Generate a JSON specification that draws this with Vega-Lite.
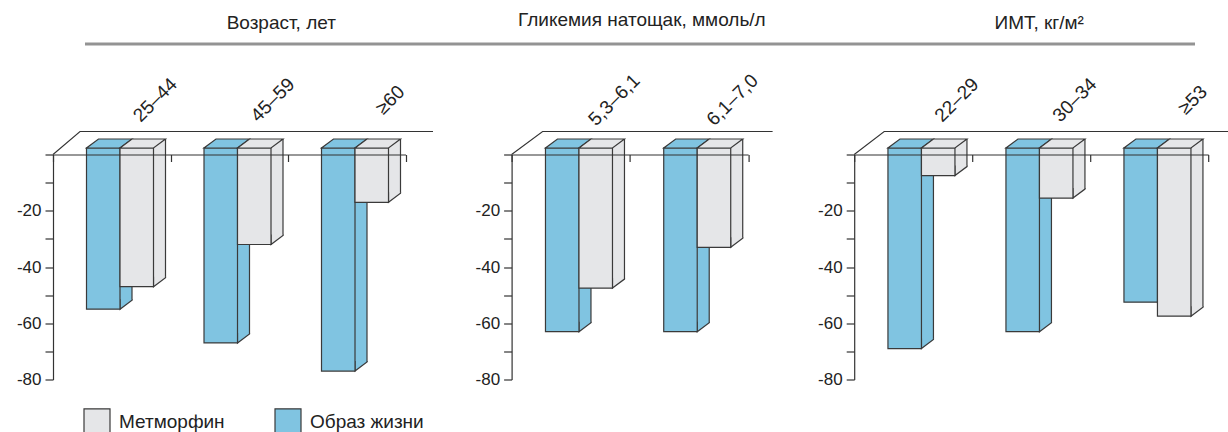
{
  "$schema": "https://vega.github.io/schema/vega-lite/v6.json",
  "background": "white",
  "padding": {"left": 16, "top": 10, "right": 0, "bottom": 0},
  "bounds": "flush",
  "spacing": 110.5,
  "datasets": {
    "bars": [
      {"group": "Возраст, лет", "category": "25–44", "series": "Метморфин", "value": -47},
      {"group": "Возраст, лет", "category": "25–44", "series": "Образ жизни", "value": -55},
      {"group": "Возраст, лет", "category": "45–59", "series": "Метморфин", "value": -32},
      {"group": "Возраст, лет", "category": "45–59", "series": "Образ жизни", "value": -67},
      {"group": "Возраст, лет", "category": "≥60", "series": "Метморфин", "value": -17},
      {"group": "Возраст, лет", "category": "≥60", "series": "Образ жизни", "value": -77},
      {"group": "Гликемия натощак, ммоль/л", "category": "5,3–6,1", "series": "Метморфин", "value": -47.5},
      {"group": "Гликемия натощак, ммоль/л", "category": "5,3–6,1", "series": "Образ жизни", "value": -63},
      {"group": "Гликемия натощак, ммоль/л", "category": "6,1–7,0", "series": "Метморфин", "value": -33},
      {"group": "Гликемия натощак, ммоль/л", "category": "6,1–7,0", "series": "Образ жизни", "value": -63},
      {"group": "ИМТ, кг/м²", "category": "22–29", "series": "Метморфин", "value": -7.5},
      {"group": "ИМТ, кг/м²", "category": "22–29", "series": "Образ жизни", "value": -69},
      {"group": "ИМТ, кг/м²", "category": "30–34", "series": "Метморфин", "value": -15.5},
      {"group": "ИМТ, кг/м²", "category": "30–34", "series": "Образ жизни", "value": -63},
      {"group": "ИМТ, кг/м²", "category": "≥53", "series": "Метморфин", "value": -57.5},
      {"group": "ИМТ, кг/м²", "category": "≥53", "series": "Образ жизни", "value": -52.5}
    ]
  },
  "data": {"name": "bars"},
  "vconcat": [
    {
      "width": 1110,
      "height": 10,
      "transform": [{"aggregate": [{"op": "count", "as": "n"}]}],
      "mark": {"type": "rule", "color": "#939393", "strokeWidth": 3, "xOffset": 32, "x2Offset": 32},
      "encoding": {
        "x": {"datum": 0, "type": "quantitative", "scale": {"domain": [0, 1]}, "axis": null},
        "x2": {"datum": 1},
        "y": {"datum": 0, "type": "quantitative", "scale": {"domain": [0, 1]}, "axis": null}
      }
    },
    {
      "bounds": "flush",
      "spacing": 105.6,
      "hconcat": [
        {
          "width": 352.5,
          "height": 225,
          "title": {"text": "Возраст, лет", "anchor": "middle", "frame": "group", "dx": 52, "offset": 41},
          "transform": [{"filter": "datum.group === 'Возраст, лет'"}],
          "encoding": {
            "x": {"field": "category", "type": "nominal", "scale": {"domain": ["25–44", "45–59", "≥60"], "paddingInner": 0, "paddingOuter": 0},
              "axis": {"orient": "top", "title": null, "zindex": 1, "tickBand": "extent", "tickSize": -7, "tickWidth": 1.2, "domainWidth": 1.2, "labelAngle": -45, "labelAlign": "center", "labelBaseline": "middle", "labelOffset": 43, "labelPadding": 62, "labelFontSize": 19, "labelOverlap": false, "labelLimit": 0}},
            "y": {"field": "value", "type": "quantitative", "stack": null, "scale": {"domain": [-80, 0], "nice": false, "zero": false},
              "axis": {"orient": "left", "title": null, "values": [-80, -70, -60, -50, -40, -30, -20, -10, 0], "labelExpr": "datum.value < 0 && datum.value % 20 === 0 ? '-' + abs(datum.value) : ''", "tickSize": 8, "tickWidth": 1.2, "domainWidth": 1.2, "labelFontSize": 17, "labelPadding": 4}}
          },
          "layer": [
            {"transform": [{"filter": "datum.category === '25–44' && datum.series === 'Образ жизни'"}],
             "mark": {"type": "point", "shape": "M0,0 L27,-23 L380,-23", "size": 4, "filled": false, "opacity": 1, "stroke": "#333333", "strokeWidth": 1.1},
             "encoding": {"x": {"field": "category", "type": "nominal", "bandPosition": 0}, "y": {"datum": 0, "type": "quantitative"}}},
            {"transform": [{"filter": "datum.series === 'Образ жизни'"}],
             "mark": {"type": "bar", "width": 12, "xOffset": 14.25, "yOffset": -9, "y2Offset": -15.5},
             "encoding": {"y2": {"datum": 0}, "color": {"field": "series", "type": "nominal"}}},
            {"transform": [{"filter": "datum.series === 'Образ жизни'"}],
             "mark": {"type": "rule", "xOffset": 20.25, "yOffset": -9, "y2Offset": -15.5, "color": "#3a3a3a", "strokeWidth": 1.2},
             "encoding": {"y2": {"datum": 0}}},
            {"transform": [{"filter": "datum.series === 'Образ жизни'"}],
             "mark": {"type": "point", "shape": "M0,-10 L0,0 L12,-9 L12,-10", "size": 4, "filled": true, "opacity": 1, "stroke": "#3a3a3a", "strokeWidth": 1.2, "xOffset": 8.25},
             "encoding": {"color": {"field": "series", "type": "nominal"}}},
            {"transform": [{"filter": "datum.series === 'Образ жизни'"}],
             "mark": {"type": "bar", "width": 33.5, "xOffset": -8.5, "y2Offset": -6.5, "stroke": "#3a3a3a", "strokeWidth": 1.2},
             "encoding": {"y2": {"datum": 0}, "color": {"field": "series", "type": "nominal", "scale": {"domain": ["Метморфин", "Образ жизни"], "range": ["#e5e6e8", "#80c4e1"]},
               "legend": {"orient": "none", "legendX": 30, "legendY": 373.5, "direction": "horizontal", "title": null, "symbolType": "square", "symbolSize": 676, "symbolStrokeColor": "#555555", "symbolStrokeWidth": 1.2, "symbolOpacity": 1, "labelFontSize": 19, "labelColor": "#222222", "labelOffset": 8, "columnPadding": 47}}}},
            {"transform": [{"filter": "datum.series === 'Образ жизни'"}],
             "mark": {"type": "point", "shape": "M0,0 L33.5,0 L45.5,-9 L12,-9 Z", "size": 4, "filled": true, "opacity": 1, "stroke": "#3a3a3a", "strokeWidth": 1.2, "xOffset": -25.25, "yOffset": -6.5},
             "encoding": {"y": {"datum": 0, "type": "quantitative"}, "color": {"field": "series", "type": "nominal"}}},
            {"transform": [{"filter": "datum.series === 'Метморфин'"}],
             "mark": {"type": "bar", "width": 12, "xOffset": 47.75, "yOffset": -9, "y2Offset": -15.5},
             "encoding": {"y2": {"datum": 0}, "color": {"field": "series", "type": "nominal"}}},
            {"transform": [{"filter": "datum.series === 'Метморфин'"}],
             "mark": {"type": "rule", "xOffset": 53.75, "yOffset": -9, "y2Offset": -15.5, "color": "#3a3a3a", "strokeWidth": 1.2},
             "encoding": {"y2": {"datum": 0}}},
            {"transform": [{"filter": "datum.series === 'Метморфин'"}],
             "mark": {"type": "point", "shape": "M0,-10 L0,0 L12,-9 L12,-10", "size": 4, "filled": true, "opacity": 1, "stroke": "#3a3a3a", "strokeWidth": 1.2, "xOffset": 41.75},
             "encoding": {"color": {"field": "series", "type": "nominal"}}},
            {"transform": [{"filter": "datum.series === 'Метморфин'"}],
             "mark": {"type": "bar", "width": 33.5, "xOffset": 25, "y2Offset": -6.5, "stroke": "#3a3a3a", "strokeWidth": 1.2},
             "encoding": {"y2": {"datum": 0}, "color": {"field": "series", "type": "nominal"}}},
            {"transform": [{"filter": "datum.series === 'Метморфин'"}],
             "mark": {"type": "point", "shape": "M0,0 L33.5,0 L45.5,-9 L12,-9 Z", "size": 4, "filled": true, "opacity": 1, "stroke": "#3a3a3a", "strokeWidth": 1.2, "xOffset": 8.25, "yOffset": -6.5},
             "encoding": {"y": {"datum": 0, "type": "quantitative"}, "color": {"field": "series", "type": "nominal"}}}
          ]
        },
        {
          "width": 236.5,
          "height": 225,
          "title": {"text": "Гликемия натощак, ммоль/л", "anchor": "middle", "frame": "group", "dx": 12, "offset": 41},
          "transform": [{"filter": "datum.group === 'Гликемия натощак, ммоль/л'"}],
          "encoding": {
            "x": {"field": "category", "type": "nominal", "scale": {"domain": ["5,3–6,1", "6,1–7,0"], "paddingInner": 0, "paddingOuter": 0},
              "axis": {"orient": "top", "title": null, "zindex": 1, "tickBand": "extent", "tickSize": -7, "tickWidth": 1.2, "domainWidth": 1.2, "labelAngle": -45, "labelAlign": "center", "labelBaseline": "middle", "labelOffset": 43, "labelPadding": 62, "labelFontSize": 19, "labelOverlap": false, "labelLimit": 0}},
            "y": {"field": "value", "type": "quantitative", "stack": null, "scale": {"domain": [-80, 0], "nice": false, "zero": false},
              "axis": {"orient": "left", "title": null, "values": [-80, -70, -60, -50, -40, -30, -20, -10, 0], "labelExpr": "datum.value < 0 && datum.value % 20 === 0 ? '-' + abs(datum.value) : ''", "tickSize": 8, "tickWidth": 1.2, "domainWidth": 1.2, "labelFontSize": 17, "labelPadding": 4}}
          },
          "layer": [
            {"transform": [{"filter": "datum.category === '5,3–6,1' && datum.series === 'Образ жизни'"}],
             "mark": {"type": "point", "shape": "M0,0 L31,-23 L261,-23", "size": 4, "filled": false, "opacity": 1, "stroke": "#333333", "strokeWidth": 1.1},
             "encoding": {"x": {"field": "category", "type": "nominal", "bandPosition": 0}, "y": {"datum": 0, "type": "quantitative"}}},
            {"transform": [{"filter": "datum.series === 'Образ жизни'"}],
             "mark": {"type": "bar", "width": 12, "xOffset": 14.25, "yOffset": -9, "y2Offset": -15.5},
             "encoding": {"y2": {"datum": 0}, "color": {"field": "series", "type": "nominal"}}},
            {"transform": [{"filter": "datum.series === 'Образ жизни'"}],
             "mark": {"type": "rule", "xOffset": 20.25, "yOffset": -9, "y2Offset": -15.5, "color": "#3a3a3a", "strokeWidth": 1.2},
             "encoding": {"y2": {"datum": 0}}},
            {"transform": [{"filter": "datum.series === 'Образ жизни'"}],
             "mark": {"type": "point", "shape": "M0,-10 L0,0 L12,-9 L12,-10", "size": 4, "filled": true, "opacity": 1, "stroke": "#3a3a3a", "strokeWidth": 1.2, "xOffset": 8.25},
             "encoding": {"color": {"field": "series", "type": "nominal"}}},
            {"transform": [{"filter": "datum.series === 'Образ жизни'"}],
             "mark": {"type": "bar", "width": 33.5, "xOffset": -8.5, "y2Offset": -6.5, "stroke": "#3a3a3a", "strokeWidth": 1.2},
             "encoding": {"y2": {"datum": 0}, "color": {"field": "series", "type": "nominal"}}},
            {"transform": [{"filter": "datum.series === 'Образ жизни'"}],
             "mark": {"type": "point", "shape": "M0,0 L33.5,0 L45.5,-9 L12,-9 Z", "size": 4, "filled": true, "opacity": 1, "stroke": "#3a3a3a", "strokeWidth": 1.2, "xOffset": -25.25, "yOffset": -6.5},
             "encoding": {"y": {"datum": 0, "type": "quantitative"}, "color": {"field": "series", "type": "nominal"}}},
            {"transform": [{"filter": "datum.series === 'Метморфин'"}],
             "mark": {"type": "bar", "width": 12, "xOffset": 47.75, "yOffset": -9, "y2Offset": -15.5},
             "encoding": {"y2": {"datum": 0}, "color": {"field": "series", "type": "nominal"}}},
            {"transform": [{"filter": "datum.series === 'Метморфин'"}],
             "mark": {"type": "rule", "xOffset": 53.75, "yOffset": -9, "y2Offset": -15.5, "color": "#3a3a3a", "strokeWidth": 1.2},
             "encoding": {"y2": {"datum": 0}}},
            {"transform": [{"filter": "datum.series === 'Метморфин'"}],
             "mark": {"type": "point", "shape": "M0,-10 L0,0 L12,-9 L12,-10", "size": 4, "filled": true, "opacity": 1, "stroke": "#3a3a3a", "strokeWidth": 1.2, "xOffset": 41.75},
             "encoding": {"color": {"field": "series", "type": "nominal"}}},
            {"transform": [{"filter": "datum.series === 'Метморфин'"}],
             "mark": {"type": "bar", "width": 33.5, "xOffset": 25, "y2Offset": -6.5, "stroke": "#3a3a3a", "strokeWidth": 1.2},
             "encoding": {"y2": {"datum": 0}, "color": {"field": "series", "type": "nominal"}}},
            {"transform": [{"filter": "datum.series === 'Метморфин'"}],
             "mark": {"type": "point", "shape": "M0,0 L33.5,0 L45.5,-9 L12,-9 Z", "size": 4, "filled": true, "opacity": 1, "stroke": "#3a3a3a", "strokeWidth": 1.2, "xOffset": 8.25, "yOffset": -6.5},
             "encoding": {"y": {"datum": 0, "type": "quantitative"}, "color": {"field": "series", "type": "nominal"}}}
          ]
        },
        {
          "width": 354,
          "height": 225,
          "title": {"text": "ИМТ, кг/м²", "anchor": "middle", "frame": "group", "dx": 8, "offset": 41},
          "transform": [{"filter": "datum.group === 'ИМТ, кг/м²'"}],
          "encoding": {
            "x": {"field": "category", "type": "nominal", "scale": {"domain": ["22–29", "30–34", "≥53"], "paddingInner": 0, "paddingOuter": 0},
              "axis": {"orient": "top", "title": null, "zindex": 1, "tickBand": "extent", "tickSize": -7, "tickWidth": 1.2, "domainWidth": 1.2, "labelAngle": -45, "labelAlign": "center", "labelBaseline": "middle", "labelOffset": 43, "labelPadding": 62, "labelFontSize": 19, "labelOverlap": false, "labelLimit": 0}},
            "y": {"field": "value", "type": "quantitative", "stack": null, "scale": {"domain": [-80, 0], "nice": false, "zero": false},
              "axis": {"orient": "left", "title": null, "values": [-80, -70, -60, -50, -40, -30, -20, -10, 0], "labelExpr": "datum.value < 0 && datum.value % 20 === 0 ? '-' + abs(datum.value) : ''", "tickSize": 8, "tickWidth": 1.2, "domainWidth": 1.2, "labelFontSize": 17, "labelPadding": 4}}
          },
          "layer": [
            {"transform": [{"filter": "datum.category === '22–29' && datum.series === 'Образ жизни'"}],
             "mark": {"type": "point", "shape": "M0,0 L30,-23 L380,-23", "size": 4, "filled": false, "opacity": 1, "stroke": "#333333", "strokeWidth": 1.1},
             "encoding": {"x": {"field": "category", "type": "nominal", "bandPosition": 0}, "y": {"datum": 0, "type": "quantitative"}}},
            {"transform": [{"filter": "datum.series === 'Образ жизни'"}],
             "mark": {"type": "bar", "width": 12, "xOffset": 14.25, "yOffset": -9, "y2Offset": -15.5},
             "encoding": {"y2": {"datum": 0}, "color": {"field": "series", "type": "nominal"}}},
            {"transform": [{"filter": "datum.series === 'Образ жизни'"}],
             "mark": {"type": "rule", "xOffset": 20.25, "yOffset": -9, "y2Offset": -15.5, "color": "#3a3a3a", "strokeWidth": 1.2},
             "encoding": {"y2": {"datum": 0}}},
            {"transform": [{"filter": "datum.series === 'Образ жизни'"}],
             "mark": {"type": "point", "shape": "M0,-10 L0,0 L12,-9 L12,-10", "size": 4, "filled": true, "opacity": 1, "stroke": "#3a3a3a", "strokeWidth": 1.2, "xOffset": 8.25},
             "encoding": {"color": {"field": "series", "type": "nominal"}}},
            {"transform": [{"filter": "datum.series === 'Образ жизни'"}],
             "mark": {"type": "bar", "width": 33.5, "xOffset": -8.5, "y2Offset": -6.5, "stroke": "#3a3a3a", "strokeWidth": 1.2},
             "encoding": {"y2": {"datum": 0}, "color": {"field": "series", "type": "nominal"}}},
            {"transform": [{"filter": "datum.series === 'Образ жизни'"}],
             "mark": {"type": "point", "shape": "M0,0 L33.5,0 L45.5,-9 L12,-9 Z", "size": 4, "filled": true, "opacity": 1, "stroke": "#3a3a3a", "strokeWidth": 1.2, "xOffset": -25.25, "yOffset": -6.5},
             "encoding": {"y": {"datum": 0, "type": "quantitative"}, "color": {"field": "series", "type": "nominal"}}},
            {"transform": [{"filter": "datum.series === 'Метморфин'"}],
             "mark": {"type": "bar", "width": 12, "xOffset": 47.75, "yOffset": -9, "y2Offset": -15.5},
             "encoding": {"y2": {"datum": 0}, "color": {"field": "series", "type": "nominal"}}},
            {"transform": [{"filter": "datum.series === 'Метморфин'"}],
             "mark": {"type": "rule", "xOffset": 53.75, "yOffset": -9, "y2Offset": -15.5, "color": "#3a3a3a", "strokeWidth": 1.2},
             "encoding": {"y2": {"datum": 0}}},
            {"transform": [{"filter": "datum.series === 'Метморфин'"}],
             "mark": {"type": "point", "shape": "M0,-10 L0,0 L12,-9 L12,-10", "size": 4, "filled": true, "opacity": 1, "stroke": "#3a3a3a", "strokeWidth": 1.2, "xOffset": 41.75},
             "encoding": {"color": {"field": "series", "type": "nominal"}}},
            {"transform": [{"filter": "datum.series === 'Метморфин'"}],
             "mark": {"type": "bar", "width": 33.5, "xOffset": 25, "y2Offset": -6.5, "stroke": "#3a3a3a", "strokeWidth": 1.2},
             "encoding": {"y2": {"datum": 0}, "color": {"field": "series", "type": "nominal"}}},
            {"transform": [{"filter": "datum.series === 'Метморфин'"}],
             "mark": {"type": "point", "shape": "M0,0 L33.5,0 L45.5,-9 L12,-9 Z", "size": 4, "filled": true, "opacity": 1, "stroke": "#3a3a3a", "strokeWidth": 1.2, "xOffset": 8.25, "yOffset": -6.5},
             "encoding": {"y": {"datum": 0, "type": "quantitative"}, "color": {"field": "series", "type": "nominal"}}}
          ]
        }
      ]
    }
  ],
  "config": {
    "view": {"stroke": null},
    "font": "Liberation Sans",
    "title": {"font": "Liberation Sans", "fontSize": 19, "fontWeight": "normal", "color": "#222222"},
    "axis": {"labelFont": "Liberation Sans", "labelColor": "#222222", "domainColor": "#333333", "tickColor": "#333333", "grid": false},
    "legend": {"labelFont": "Liberation Sans"}
  }
}
